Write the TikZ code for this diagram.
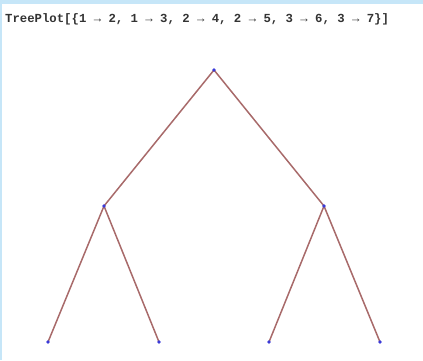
\documentclass[tikz,border=0pt]{standalone}
\usepackage{fontspec}
\newfontfamily\codefont{Liberation Mono}
\usetikzlibrary{positioning, backgrounds}
\definecolor{cedge}{HTML}{A86A6A}
\definecolor{cvert}{HTML}{3A3AD8}
\definecolor{cframe}{HTML}{C6E6F8}
\tikzset{
  every picture/.style={x=1pt, y=-1pt},
  vert/.style={circle, fill=cvert, inner sep=0pt, minimum size=3.6pt},
  edge/.style={draw=cedge, line width=1.5pt},
  code/.style={font=\codefont\bfseries\fontsize{12.3}{14}\selectfont, text=black!80, anchor=west, inner sep=0pt},
}

\begin{document}
\begin{tikzpicture}
  \useasboundingbox (0,0) rectangle (423,360);
  \fill[cframe] (0,0) rectangle (423,4);
  \fill[cframe] (0,0) rectangle (2,360);
  \node[code] (cmd) at (5,19) {TreePlot[\{1 → 2, 1 → 3, 2 → 4, 2 → 5, 3 → 6, 3 → 7\}]};
  % vertices
  \node[vert] (v1) at (214,70) {};
  \node[vert] (v2) at (104,206) {};
  \node[vert] (v3) at (324,206) {};
  \node[vert] (v4) at (48,342) {};
  \node[vert] (v5) at (159,342) {};
  \node[vert] (v6) at (269,342) {};
  \node[vert] (v7) at (380,342) {};
  % edges
  \begin{scope}[on background layer]
    \foreach \a/\b in {v1/v2, v1/v3, v2/v4, v2/v5, v3/v6, v3/v7}
      \draw[edge] (\a.center) -- (\b.center);
  \end{scope}
\end{tikzpicture}
\end{document}
